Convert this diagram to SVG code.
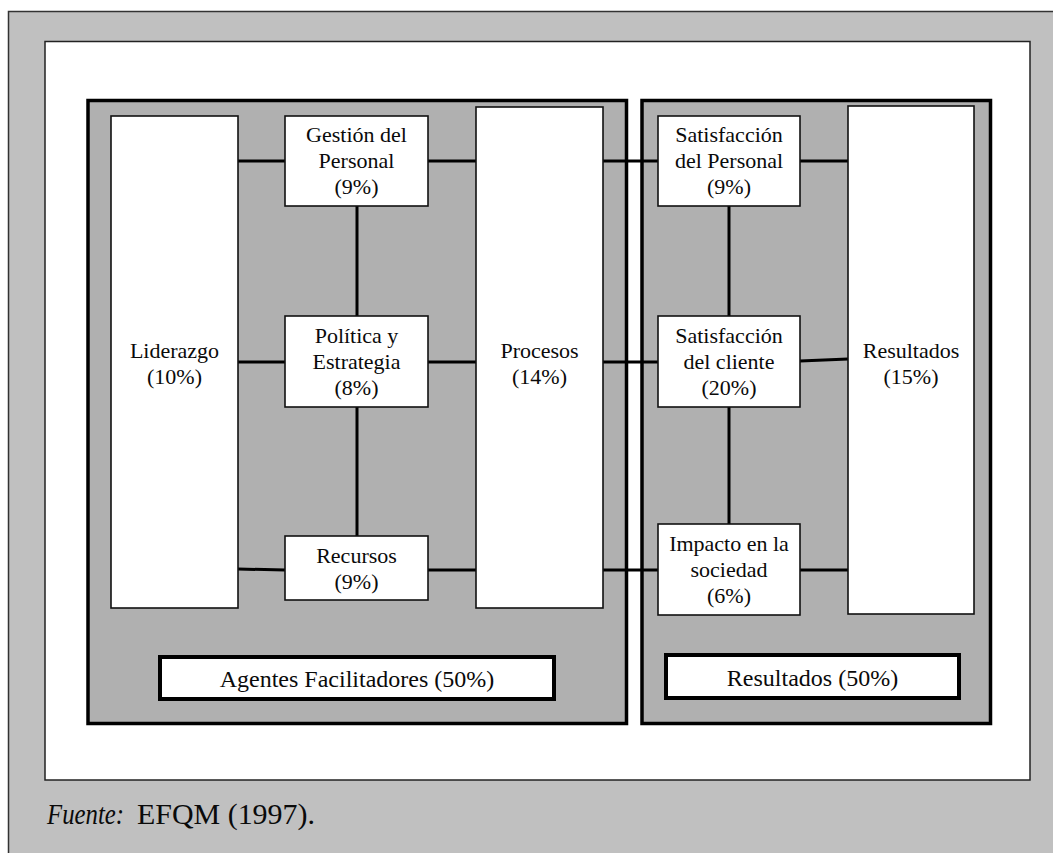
<svg xmlns="http://www.w3.org/2000/svg" width="1053" height="853" viewBox="0 0 1053 853">
  <style>
    .frame { fill: #c0c0c0; stroke: #333333; stroke-width: 1.5; }
    .sheet { fill: #ffffff; stroke: #222222; stroke-width: 1.5; }
    .panel { fill: #b0b0b0; stroke: #000000; stroke-width: 3.5; }
    .node { fill: #ffffff; stroke: #111111; stroke-width: 1.6; }
    .label { fill: #ffffff; stroke: #000000; stroke-width: 4; }
    .link { stroke: #000000; stroke-width: 3; fill: none; }
    text { font-family: "Liberation Serif", "Times New Roman", serif; fill: #0a0a0a; text-anchor: middle; }
    .t { font-size: 22px; }
    .big { font-size: 24px; }
    .foot { font-size: 29px; text-anchor: start; }
  </style>

  <!-- page frame -->
  <rect class="frame" x="8.5" y="11.5" width="1070" height="870"/>
  <rect class="sheet" x="45" y="41.5" width="985" height="738.5"/>

  <!-- model panels -->
  <rect id="panel-agentes" class="panel" x="88" y="100.5" width="538.5" height="623"/>
  <rect id="panel-resultados" class="panel" x="642" y="100.5" width="348.5" height="623"/>

  <!-- connectors -->
  <g id="connectors" class="link">
    <line x1="238" y1="161" x2="285" y2="161"/>
    <line x1="428" y1="161" x2="476" y2="161"/>
    <line x1="357" y1="206" x2="357" y2="316"/>
    <line x1="238" y1="362" x2="285" y2="362"/>
    <line x1="428" y1="362" x2="476" y2="362"/>
    <line x1="357" y1="407" x2="357" y2="536"/>
    <line x1="238" y1="569" x2="285" y2="570"/>
    <line x1="428" y1="570" x2="476" y2="570"/>
    <line x1="603" y1="161" x2="658" y2="161"/>
    <line x1="603" y1="362" x2="658" y2="362"/>
    <line x1="603" y1="570" x2="658" y2="570"/>
    <line x1="800" y1="161" x2="848" y2="161"/>
    <line x1="800" y1="361" x2="848" y2="359"/>
    <line x1="800" y1="570" x2="848" y2="570"/>
    <line x1="729" y1="206" x2="729" y2="316"/>
    <line x1="729" y1="407" x2="729" y2="524"/>
  </g>

  <!-- enablers -->
  <g id="liderazgo">
    <rect class="node" x="111" y="116" width="127" height="492"/>
    <text class="t" x="174.5" y="358">Liderazgo</text>
    <text class="t" x="174.5" y="384">(10%)</text>
  </g>
  <g id="gestion-personal">
    <rect class="node" x="285" y="116" width="143" height="90"/>
    <text class="t" x="356.5" y="142">Gestión del</text>
    <text class="t" x="356.5" y="168">Personal</text>
    <text class="t" x="356.5" y="194">(9%)</text>
  </g>
  <g id="politica-estrategia">
    <rect class="node" x="285" y="316" width="143" height="91"/>
    <text class="t" x="356.5" y="343">Política y</text>
    <text class="t" x="356.5" y="369">Estrategia</text>
    <text class="t" x="356.5" y="395">(8%)</text>
  </g>
  <g id="recursos">
    <rect class="node" x="285" y="536" width="143" height="64"/>
    <text class="t" x="356.5" y="563">Recursos</text>
    <text class="t" x="356.5" y="589">(9%)</text>
  </g>
  <g id="procesos">
    <rect class="node" x="476" y="107" width="127" height="501"/>
    <text class="t" x="539.5" y="358">Procesos</text>
    <text class="t" x="539.5" y="384">(14%)</text>
  </g>

  <!-- results -->
  <g id="satisfaccion-personal">
    <rect class="node" x="658" y="116" width="142" height="90"/>
    <text class="t" x="729" y="142">Satisfacción</text>
    <text class="t" x="729" y="168">del Personal</text>
    <text class="t" x="729" y="194">(9%)</text>
  </g>
  <g id="satisfaccion-cliente">
    <rect class="node" x="658" y="316" width="142" height="91"/>
    <text class="t" x="729" y="343">Satisfacción</text>
    <text class="t" x="729" y="369">del cliente</text>
    <text class="t" x="729" y="395">(20%)</text>
  </g>
  <g id="impacto-sociedad">
    <rect class="node" x="658" y="524" width="142" height="91"/>
    <text class="t" x="729" y="551">Impacto en la</text>
    <text class="t" x="729" y="577">sociedad</text>
    <text class="t" x="729" y="603">(6%)</text>
  </g>
  <g id="resultados-negocio">
    <rect class="node" x="848" y="106" width="126" height="508"/>
    <text class="t" x="911" y="358">Resultados</text>
    <text class="t" x="911" y="384">(15%)</text>
  </g>

  <!-- panel captions -->
  <g id="caption-agentes">
    <rect class="label" x="160" y="657" width="394" height="42"/>
    <text class="big" x="357" y="687">Agentes Facilitadores (50%)</text>
  </g>
  <g id="caption-resultados">
    <rect class="label" x="666" y="655" width="293" height="43"/>
    <text class="big" x="812.5" y="686">Resultados (50%)</text>
  </g>

  <!-- source note -->
  <text class="foot" x="47" y="824" font-style="italic" textLength="77" lengthAdjust="spacingAndGlyphs">Fuente:</text>
  <text class="foot" x="137" y="824" textLength="178" lengthAdjust="spacingAndGlyphs">EFQM (1997).</text>
</svg>
